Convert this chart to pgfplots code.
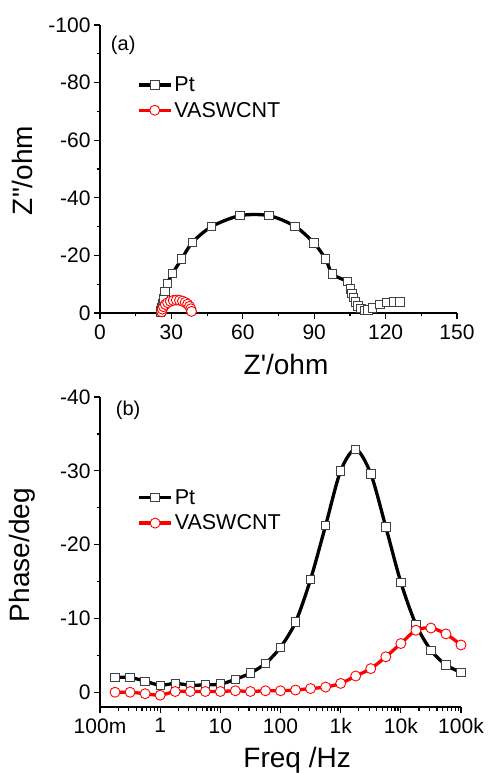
\documentclass[border=0pt]{standalone}
\usepackage{fontspec}
\setmainfont{Liberation Sans}
\usepackage{pgfplots}
\pgfplotsset{compat=1.18}

\begin{document}
\begin{tikzpicture}

  \pgfplotsset{
    panel/.style={
      scale only axis,
      anchor=center,
      axis x line*=bottom,
      axis y line*=left,
      y dir=reverse,
      axis line style={line width=1.4pt},
      every tick/.style={line width=1.2pt,black},
      major tick length=6pt,
      minor tick length=3.5pt,
      tick align=outside,
      tick label style={font=\fontsize{21}{21}\selectfont},
      xticklabel style={yshift=-2pt},
      label style={font=\fontsize{28}{28}\selectfont},
      /pgf/number format/assume math mode=true,
      legend style={draw=none,fill=none,anchor=north west,
        font=\fontsize{21.5}{21.5}\selectfont,row sep=5pt},
      legend cell align=left,
      legend image code/.code={
        \draw[mark repeat=2,mark phase=2]
        plot coordinates {(0pt,0pt) (16pt,0pt) (32pt,0pt)};},
    },
    pt/.style={black,line width=3.3pt,smooth,
      mark=square*,mark size=4.2pt,
      mark options={solid,fill=white,draw=black!75,line width=0.9pt}},
    va/.style={red,line width=3.3pt,smooth,
      mark=*,mark size=5pt,
      mark options={solid,fill=white,draw=red,line width=0.9pt}},
  }

  \path[use as bounding box] (0,0) rectangle (490pt,773pt);

  %%% (a) Nyquist
  \begin{axis}[
    panel,
    at={(278.5pt,604pt)},
    width=357pt, height=288pt,
    xmin=0, xmax=150,
    ymin=-100, ymax=0,
    xtick={0,30,...,150},
    minor x tick num=1,
    ytick={-100,-80,-60,-40,-20,0},
    yticklabels={-100,-80,-60,-40,-20,0},
    minor y tick num=1,
    xlabel={Z\textquotesingle/ohm},
    ylabel={Z\textquotedbl/ohm},
    xlabel style={at={(axis description cs:0.521,-0.178)},anchor=center},
    ylabel style={at={(axis description cs:-0.218,0.495)},anchor=center},
    legend style={at={(axis description cs:0.095,0.835)}},
    ]
    \addplot [pt] coordinates {
      (25.3,-0.2) (25.5,-0.8) (25.8,-1.8) (26.2,-3.2) (26.6,-5.0)
      (27.3,-7.5) (28.3,-10.3) (30.5,-13.8) (34.3,-18.7) (38.8,-24.5)
      (46.9,-30.0) (58.8,-33.8) (71.0,-33.8) (81.9,-30.1) (89.9,-24.3)
      (94.8,-18.7) (97.7,-13.5) (103.9,-10.9) (105.3,-8.3) (105.9,-6.8)
      (106.5,-5.3) (107.4,-3.8) (108.4,-2.5) (109.6,-1.5) (111.0,-0.9)
      (112.6,-1.0) (114.5,-1.8) (117.6,-3.0) (120.4,-3.6) (123.2,-3.9)
      (126.0,-3.8)};
    \addplot [va] coordinates {
      (25.93,-0.39) (26.18,-1.32) (26.69,-2.18) (27.44,-2.95) (28.41,-3.59)
      (29.54,-4.08) (30.78,-4.38) (32.09,-4.50) (33.40,-4.42) (34.66,-4.14)
      (35.81,-3.69) (36.81,-3.07) (37.60,-2.32) (38.16,-1.47) (38.45,-0.55)};
    \legend{Pt,VASWCNT}
    \node [font=\fontsize{20}{20}\selectfont]
      at (axis description cs:0.065,0.93) {(a)};
  \end{axis}

  %%% (b) Bode phase
  \begin{axis}[
    panel,
    at={(280.5pt,221pt)},
    width=361pt, height=310pt,
    xmode=log,
    xmin=0.1, xmax=100000,
    ymin=-40, ymax=2,
    xtick={0.1,1,10,100,1000,10000,100000},
    xticklabels={100m,1,10,100,1k,10k,100k},
    ytick={-40,-30,-20,-10,0},
    yticklabels={-40,-30,-20,-10,0},
    minor y tick num=1,
    xlabel={Freq /Hz},
    ylabel={Phase/deg},
    xlabel style={at={(axis description cs:0.546,-0.172)},anchor=center},
    ylabel style={at={(axis description cs:-0.216,0.49)},anchor=center},
    legend style={at={(axis description cs:0.095,0.715)}},
    ]
    \addplot [pt] coordinates {
      (0.1778,-2.0) (0.3162,-2.0) (0.5623,-1.5) (1,-0.95) (1.778,-1.2)
      (3.162,-0.95) (5.623,-1.0) (10,-1.1) (17.78,-1.75) (31.62,-2.6)
      (56.23,-3.9) (100,-6.1) (177.8,-9.5) (316.2,-15.3) (562.3,-22.6)
      (1000,-30.0) (1778,-32.9) (3162,-29.6) (5623,-22.4) (10000,-14.9)
      (17783,-9.2) (31623,-5.7) (56234,-3.7) (100000,-2.7)};
    \addplot [va] coordinates {
      (0.1778,0.0) (0.3162,0.0) (0.5623,0.2) (1,0.4) (1.778,-0.1)
      (3.162,-0.1) (5.623,-0.1) (10,-0.1) (17.78,-0.2) (31.62,-0.1)
      (56.23,-0.2) (100,-0.2) (177.8,-0.3) (316.2,-0.5) (562.3,-0.7)
      (1000,-1.2) (1778,-2.2) (3162,-3.2) (5623,-4.8) (10000,-6.6)
      (17783,-8.4) (31623,-8.7) (56234,-7.9) (100000,-6.4)};
    \legend{Pt,VASWCNT}
    \node [font=\fontsize{20}{20}\selectfont]
      at (axis description cs:0.078,0.958) {(b)};
  \end{axis}

\end{tikzpicture}
\end{document}
